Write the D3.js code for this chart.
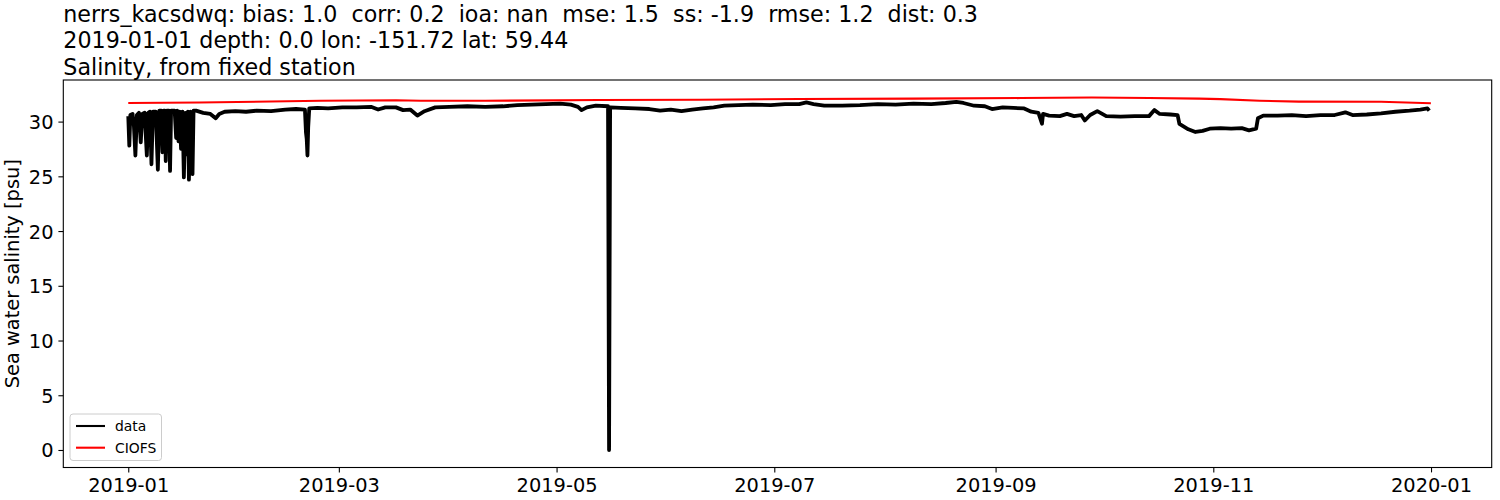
<!DOCTYPE html>
<html>
<head>
<meta charset="utf-8">
<script src="https://cdn.jsdelivr.net/npm/d3@7"></script>
<style>
  html, body { margin: 0; padding: 0; background: #fff; }
  svg { display: block; }
  text { font-family: "DejaVu Sans", sans-serif; }
</style>
</head>
<body>
<svg id="chart" width="1500" height="500"></svg>
<script>
// ---------------- data ----------------
const titleLines = [
  "nerrs_kacsdwq: bias: 1.0  corr: 0.2  ioa: nan  mse: 1.5  ss: -1.9  rmse: 1.2  dist: 0.3",
  "2019-01-01 depth: 0.0 lon: -151.72 lat: 59.44",
  "Salinity, from fixed station"
];
const yLabel = "Sea water salinity [psu]";
const seriesNames = ["data", "CIOFS"];
const xTickDates = ["2019-01-01", "2019-03-01", "2019-05-01", "2019-07-01", "2019-09-01", "2019-11-01", "2020-01-01"];
const yTickValues = [0, 5, 10, 15, 20, 25, 30];

const dataTimes = [
  "2019-01-01T00","2019-01-01T07","2019-01-01T14","2019-01-02T05","2019-01-02T14","2019-01-03T00","2019-01-03T10",
  "2019-01-04T00","2019-01-04T12","2019-01-04T22","2019-01-05T14","2019-01-06T05","2019-01-06T14","2019-01-07T02",
  "2019-01-07T12","2019-01-07T22","2019-01-08T17","2019-01-09T07","2019-01-09T17","2019-01-10T07","2019-01-10T14",
  "2019-01-10T22","2019-01-11T07","2019-01-11T12","2019-01-11T19","2019-01-12T10","2019-01-12T17","2019-01-13T00",
  "2019-01-14T00","2019-01-14T10","2019-01-14T17","2019-01-15T02","2019-01-15T10","2019-01-15T19","2019-01-16T05",
  "2019-01-16T14","2019-01-17T00","2019-01-17T10","2019-01-17T17","2019-01-18T00","2019-01-18T10","2019-01-18T17",
  "2019-01-19T00","2019-01-19T07","2019-01-20T00",
  "2019-01-22T00","2019-01-24T00","2019-01-25T12","2019-01-26T12","2019-01-28T00","2019-01-31T00","2019-02-03T00",
  "2019-02-06T00","2019-02-10T00","2019-02-14T00","2019-02-17T00","2019-02-19T12","2019-02-19T19","2019-02-20T00",
  "2019-02-20T05","2019-02-20T10","2019-02-20T17","2019-02-23T00","2019-02-26T00","2019-03-02T00","2019-03-06T00",
  "2019-03-10T00","2019-03-12T00","2019-03-14T00","2019-03-17T00","2019-03-19T00","2019-03-21T00","2019-03-23T00",
  "2019-03-25T00","2019-03-28T00","2019-04-01T00","2019-04-06T00","2019-04-11T00","2019-04-16T00","2019-04-20T00",
  "2019-04-24T00","2019-04-28T00","2019-05-02T00","2019-05-05T00","2019-05-07T00","2019-05-08T00","2019-05-09T12",
  "2019-05-12T00","2019-05-15T10","2019-05-15T17","2019-05-16T00","2019-05-19T00","2019-05-23T00","2019-05-27T00",
  "2019-05-30T00","2019-06-02T00","2019-06-05T00","2019-06-08T00","2019-06-11T00","2019-06-14T00","2019-06-17T00",
  "2019-06-21T00","2019-06-25T00","2019-06-30T00","2019-07-04T00","2019-07-08T00","2019-07-10T00","2019-07-12T00",
  "2019-07-15T00","2019-07-20T00","2019-07-25T00","2019-07-30T00","2019-08-04T00","2019-08-09T00","2019-08-14T00",
  "2019-08-18T00","2019-08-21T00","2019-08-23T00","2019-08-26T00","2019-08-29T00","2019-08-31T00","2019-09-03T00",
  "2019-09-06T00","2019-09-09T00","2019-09-11T00","2019-09-13T00","2019-09-14T00","2019-09-14T07","2019-09-16T00",
  "2019-09-19T00","2019-09-21T00","2019-09-23T00","2019-09-25T00","2019-09-26T00","2019-09-27T12","2019-09-29T12",
  "2019-10-02T00","2019-10-06T00","2019-10-10T00","2019-10-14T00","2019-10-15T12","2019-10-17T00","2019-10-20T00",
  "2019-10-22T00","2019-10-22T12","2019-10-25T00","2019-10-27T00","2019-10-29T00","2019-10-31T00","2019-11-03T00",
  "2019-11-06T00","2019-11-09T00","2019-11-11T00","2019-11-13T00","2019-11-13T12","2019-11-15T00","2019-11-19T00",
  "2019-11-23T00","2019-11-27T00","2019-12-01T00","2019-12-05T00","2019-12-08T00","2019-12-10T00","2019-12-14T00",
  "2019-12-18T00","2019-12-22T00","2019-12-26T00","2019-12-29T00","2019-12-31T00","2019-12-31T12"
];
const dataValues = [
  30.5, 27.8, 30.6, 30.7, 29.6, 26.9, 30.6,
  30.8, 28.1, 30.7, 30.8, 26.9, 30.8, 30.9,
  26.1, 30.9, 30.9, 25.6, 31.0, 31.0, 27.2,
  31.0, 31.0, 26.4, 31.0, 31.0, 25.5, 31.0,
  31.0, 28.5, 31.0, 28.2, 30.9, 27.5, 30.9,
  24.9, 30.8, 27.0, 30.9, 24.7, 30.9, 26.5,
  25.2, 31.0, 31.0,
  30.8, 30.7, 30.3, 30.7, 30.9, 30.95, 30.9,
  31.0, 30.95, 31.1, 31.15, 31.1, 29.0, 28.4,
  26.9, 29.5, 31.2, 31.25, 31.2, 31.3, 31.3,
  31.35, 31.1, 31.3, 31.3, 31.05, 31.1, 30.55,
  30.95, 31.3, 31.35, 31.4, 31.35, 31.4, 31.5,
  31.55, 31.6, 31.65, 31.55, 31.35, 31.05, 31.3,
  31.45, 31.4, 0.0, 31.3, 31.25, 31.2, 31.15,
  31.0, 31.1, 30.95, 31.1, 31.2, 31.3, 31.45,
  31.5, 31.55, 31.5, 31.6, 31.6, 31.75, 31.6,
  31.45, 31.45, 31.5, 31.6, 31.55, 31.65, 31.6,
  31.7, 31.8, 31.7, 31.45, 31.4, 31.15, 31.3,
  31.25, 31.2, 30.9, 30.8, 29.8, 30.7, 30.55,
  30.5, 30.7, 30.5, 30.6, 30.1, 30.6, 30.95,
  30.5, 30.45, 30.5, 30.5, 31.05, 30.7, 30.65,
  30.6, 29.8, 29.3, 29.05, 29.15, 29.35, 29.4,
  29.35, 29.4, 29.2, 29.35, 30.3, 30.55, 30.55,
  30.6, 30.5, 30.6, 30.6, 30.85, 30.6, 30.65,
  30.75, 30.9, 31.0, 31.1, 31.2, 31.0
];

const modelTimes = [
  "2019-01-01T00","2019-01-21T00","2019-02-24T00","2019-03-17T00","2019-03-24T00","2019-04-11T00","2019-05-13T00",
  "2019-06-10T00","2019-07-08T00","2019-08-09T00","2019-09-08T00","2019-09-28T00","2019-10-14T00","2019-10-28T00",
  "2019-11-03T00","2019-11-14T00","2019-11-25T00","2019-12-18T00","2019-12-31T23"
];
const modelValues = [
  31.7, 31.75, 31.9, 31.95, 31.9, 31.9, 31.97,
  32.0, 32.06, 32.1, 32.15, 32.2, 32.15, 32.1,
  32.05, 31.9, 31.82, 31.81, 31.68
];

// ---------------- layout ----------------
const svg = d3.select("#chart");
const m = { left: 63.3, right: 1491.7, top: 80, bottom: 467.5 };
const FONT = 19.4;
const TITLE_FONT = 22.2;
const parseT = d3.utcParse("%Y-%m-%dT%H");
const parseD = d3.utcParse("%Y-%m-%d");

const x = d3.scaleUtc()
  .domain([new Date(Date.UTC(2018, 11, 13, 19, 12)), new Date(Date.UTC(2020, 0, 18, 0))])
  .range([m.left, m.right]);
const y = d3.scaleLinear().domain([-1.6, 33.8]).range([m.bottom, m.top]);

const dataPts = dataTimes.map((t, i) => ({ t: parseT(t), v: dataValues[i] }));
const modelPts = modelTimes.map((t, i) => ({ t: parseT(t), v: modelValues[i] }));

svg.append("defs").append("clipPath").attr("id", "clip")
  .append("rect").attr("x", m.left).attr("y", m.top)
  .attr("width", m.right - m.left).attr("height", m.bottom - m.top);

const line = d3.line().x(d => x(d.t)).y(d => y(d.v));

const plot = svg.append("g").attr("clip-path", "url(#clip)");
plot.append("path").datum(dataPts)
  .attr("d", line).attr("fill", "none").attr("stroke", "#000")
  .attr("stroke-width", 3.8).attr("stroke-linejoin", "round").attr("stroke-linecap", "butt");
plot.append("path").datum(modelPts)
  .attr("d", line).attr("fill", "none").attr("stroke", "#ff0000")
  .attr("stroke-width", 2.1).attr("stroke-linejoin", "round");

// axes
const xAxis = d3.axisBottom(x)
  .tickValues(xTickDates.map(parseD))
  .tickFormat(d3.utcFormat("%Y-%m"))
  .tickSize(4.9).tickPadding(6.2);
const gx = svg.append("g").attr("transform", `translate(0,${m.bottom})`).call(xAxis);
gx.select(".domain").remove();
gx.selectAll("text").attr("font-size", FONT).attr("font-family", "DejaVu Sans").attr("fill", "#000");
gx.selectAll("line").attr("stroke", "#000").attr("stroke-width", 1.1);

const yAxis = d3.axisLeft(y).tickValues(yTickValues).tickFormat(d3.format("d"))
  .tickSize(4.9).tickPadding(4.9);
const gy = svg.append("g").attr("transform", `translate(${m.left},0)`).call(yAxis);
gy.select(".domain").remove();
gy.selectAll("text").attr("font-size", FONT).attr("font-family", "DejaVu Sans").attr("fill", "#000").attr("dy", "0.36em");
gy.selectAll("line").attr("stroke", "#000").attr("stroke-width", 1.1);

// frame
svg.append("rect").attr("x", m.left).attr("y", m.top)
  .attr("width", m.right - m.left).attr("height", m.bottom - m.top)
  .attr("fill", "none").attr("stroke", "#000").attr("stroke-width", 1.1);

// y label
svg.append("text")
  .attr("transform", `translate(18.5,${(m.top + m.bottom) / 2}) rotate(-90)`)
  .attr("text-anchor", "middle").attr("font-size", FONT).text(yLabel);

// title
const titleBaselines = [21.5, 48, 74.5];
titleLines.forEach((s, i) => {
  svg.append("text").attr("x", m.left).attr("y", titleBaselines[i])
    .attr("font-size", TITLE_FONT).style("white-space", "pre").text(s);
});

// legend
const colors = ["#000", "#ff0000"];
const lg = svg.append("g");
lg.append("rect").attr("x", 70).attr("y", 414).attr("width", 91.5).attr("height", 46.5)
  .attr("rx", 3).attr("fill", "#fff").attr("fill-opacity", 0.8)
  .attr("stroke", "#cccccc").attr("stroke-width", 1);
seriesNames.forEach((name, i) => {
  const cy = 426 + i * 21.7;
  lg.append("line").attr("x1", 76).attr("x2", 105).attr("y1", cy).attr("y2", cy)
    .attr("stroke", colors[i]).attr("stroke-width", 2.1);
  lg.append("text").attr("x", 115).attr("y", cy + 4.8).attr("font-size", 13.9).text(name);
});
</script>
</body>
</html>
